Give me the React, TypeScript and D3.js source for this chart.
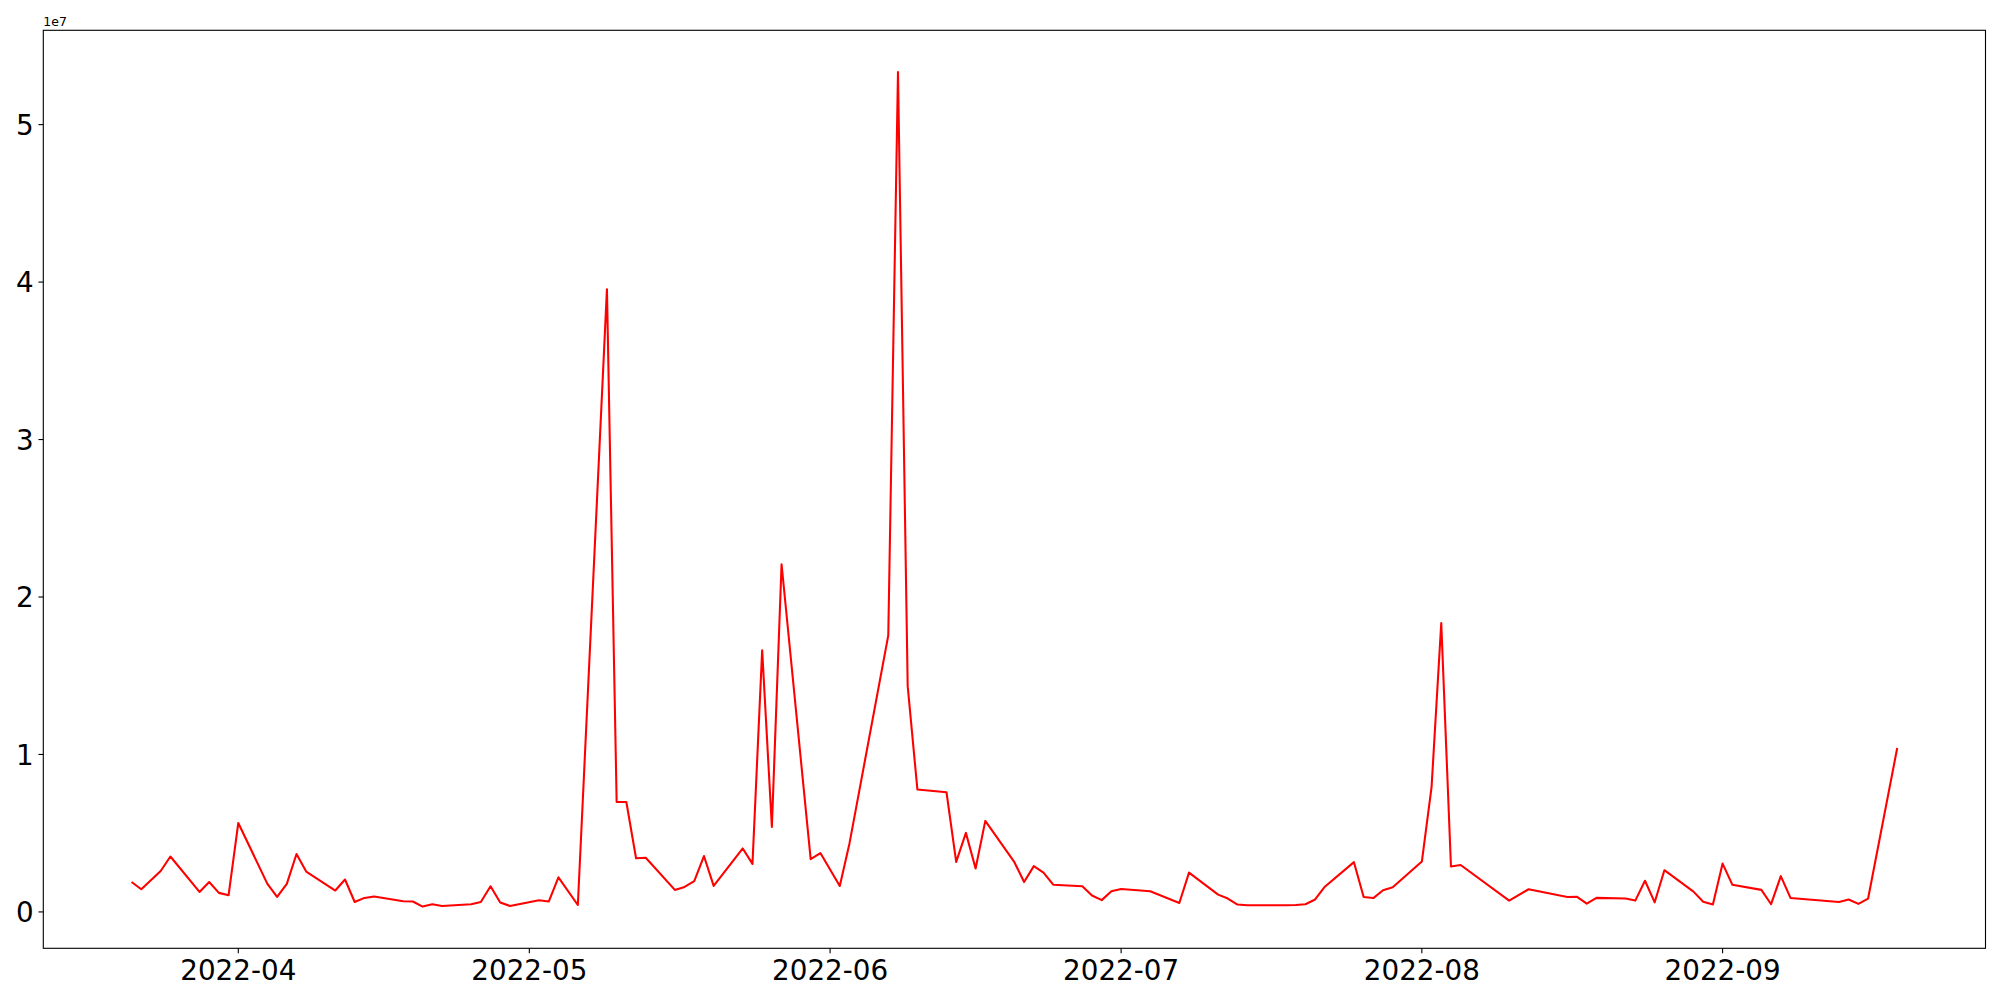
import React from "react";
import * as d3 from "d3";

const dates: string[] = [
  "2022-03-21","2022-03-22","2022-03-24","2022-03-25","2022-03-28","2022-03-29","2022-03-30","2022-03-31",
  "2022-04-01","2022-04-04","2022-04-05","2022-04-06","2022-04-07","2022-04-08","2022-04-11","2022-04-12",
  "2022-04-13","2022-04-14","2022-04-15","2022-04-18","2022-04-19","2022-04-20","2022-04-21","2022-04-22",
  "2022-04-25","2022-04-26","2022-04-27","2022-04-28","2022-04-29","2022-05-02","2022-05-03","2022-05-04",
  "2022-05-06","2022-05-09","2022-05-10","2022-05-11","2022-05-12","2022-05-13","2022-05-16","2022-05-17",
  "2022-05-18","2022-05-19","2022-05-20","2022-05-23","2022-05-24","2022-05-25","2022-05-26","2022-05-27",
  "2022-05-30","2022-05-31","2022-06-02","2022-06-03","2022-06-07","2022-06-08","2022-06-09","2022-06-10",
  "2022-06-13","2022-06-14","2022-06-15","2022-06-16","2022-06-17","2022-06-20","2022-06-21","2022-06-22",
  "2022-06-23","2022-06-24","2022-06-27","2022-06-28","2022-06-29","2022-06-30","2022-07-01","2022-07-04",
  "2022-07-07","2022-07-08","2022-07-11","2022-07-12","2022-07-13","2022-07-14","2022-07-15","2022-07-18",
  "2022-07-19","2022-07-20","2022-07-21","2022-07-22","2022-07-25","2022-07-26","2022-07-27","2022-07-28",
  "2022-07-29","2022-08-01","2022-08-02","2022-08-03","2022-08-04","2022-08-05","2022-08-10","2022-08-12",
  "2022-08-16","2022-08-17","2022-08-18","2022-08-19","2022-08-22","2022-08-23","2022-08-24","2022-08-25",
  "2022-08-26","2022-08-29","2022-08-30","2022-08-31","2022-09-01","2022-09-02","2022-09-05","2022-09-06",
  "2022-09-07","2022-09-08","2022-09-13","2022-09-14","2022-09-15","2022-09-16","2022-09-19",
];

// values in units of 1e7
const values: number[] = [
  0.19,0.144,0.26,0.352,0.127,0.19,0.121,0.106,
  0.565,0.178,0.095,0.178,0.368,0.256,0.136,0.206,
  0.063,0.089,0.098,0.068,0.066,0.034,0.049,0.038,
  0.049,0.063,0.163,0.06,0.038,0.074,0.066,0.22,
  0.044,3.955,0.698,0.698,0.341,0.344,0.14,0.159,
  0.196,0.355,0.165,0.403,0.305,1.662,0.54,2.208,
  0.335,0.374,0.165,0.435,1.756,5.334,1.434,0.778,
  0.76,0.318,0.502,0.276,0.578,0.316,0.19,0.291,
  0.25,0.173,0.163,0.104,0.075,0.131,0.146,0.131,
  0.057,0.25,0.11,0.085,0.047,0.042,0.042,0.042,
  0.044,0.049,0.079,0.16,0.316,0.095,0.088,0.138,
  0.157,0.32,0.792,1.835,0.289,0.298,0.072,0.144,
  0.095,0.096,0.053,0.089,0.085,0.072,0.198,0.061,
  0.265,0.129,0.065,0.047,0.307,0.173,0.14,0.049,
  0.227,0.089,0.063,0.079,0.051,0.085,1.041,
];

const yTicks: number[] = [0, 1, 2, 3, 4, 5];
const xTickDates: string[] = ["2022-04-01","2022-05-01","2022-06-01","2022-07-01","2022-08-01","2022-09-01"];

const W = 2000, H = 1000;
const L = 43.3, R = 1985.5, T = 30.3, B = 948.3;
const FONT = "'DejaVu Sans', sans-serif";
const FS = 27.78;

export default function App() {
  const parse = d3.utcParse("%Y-%m-%d");
  const data = dates.map((d, i) => ({ date: parse(d) as Date, v: values[i] * 1e7 }));

  const [x0, x1] = d3.extent(data, (d) => d.date) as [Date, Date];
  const span = x1.getTime() - x0.getTime();
  const x = d3.scaleUtc()
    .domain([new Date(x0.getTime() - 0.05 * span), new Date(x1.getTime() + 0.05 * span)])
    .range([L, R]);

  const [y0, y1] = d3.extent(data, (d) => d.v) as [number, number];
  const yr = y1 - y0;
  const y = d3.scaleLinear().domain([y0 - 0.05 * yr, y1 + 0.05 * yr]).range([B, T]);

  const line = d3.line<{ date: Date; v: number }>()
    .x((d) => x(d.date))
    .y((d) => y(d.v));

  const fmt = d3.utcFormat("%Y-%m");

  return (
    <svg
      width={W}
      height={H}
      style={{ position: "absolute", left: 0, top: 0, background: "#fff" }}
      fontFamily={FONT}
    >
      <rect x={0} y={0} width={W} height={H} fill="#fff" />
      <defs>
        <clipPath id="plotclip">
          <rect x={L} y={T} width={R - L} height={B - T} />
        </clipPath>
      </defs>
      <path
        d={line(data) || ""}
        fill="none"
        stroke="#ff0000"
        strokeWidth={2.08}
        strokeLinejoin="round"
        clipPath="url(#plotclip)"
      />
      <rect x={L} y={T} width={R - L} height={B - T} fill="none" stroke="#000" strokeWidth={1.11} />
      {yTicks.map((t) => {
        const yy = y(t * 1e7);
        return (
          <g key={"y" + t}>
            <line x1={L - 4.86} x2={L} y1={yy} y2={yy} stroke="#000" strokeWidth={1.11} />
            <text x={L - 9.7} y={yy + 0.3645 * FS} textAnchor="end" fontSize={FS} fill="#000">
              {String(t)}
            </text>
          </g>
        );
      })}
      {xTickDates.map((s) => {
        const xx = x(parse(s) as Date);
        return (
          <g key={"x" + s}>
            <line x1={xx} x2={xx} y1={B} y2={B + 4.86} stroke="#000" strokeWidth={1.11} />
            <text x={xx} y={B + 31.5} textAnchor="middle" fontSize={FS} fill="#000">
              {fmt(parse(s) as Date)}
            </text>
          </g>
        );
      })}
      <text x={L} y={26} fontSize={12.5} fill="#000">1e7</text>
    </svg>
  );
}
